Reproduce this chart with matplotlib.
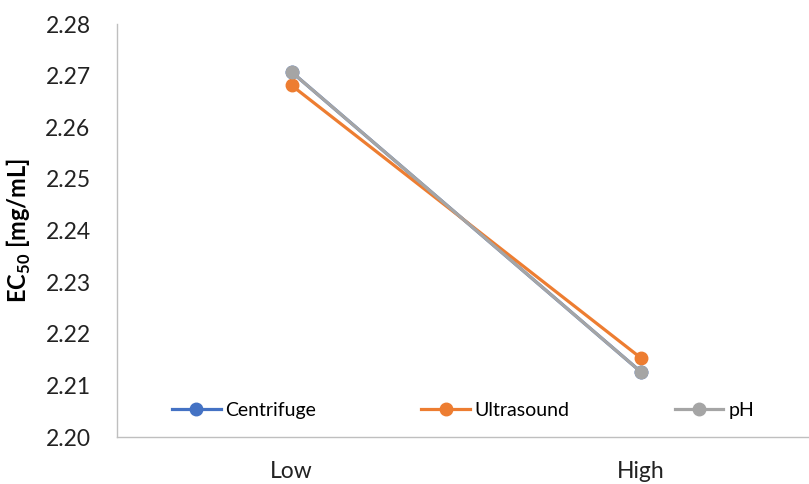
import matplotlib
matplotlib.use("Agg")
import matplotlib.pyplot as plt

categories = ["Low", "High"]
centrifuge = [2.2707, 2.2126]
ultrasound = [2.2681, 2.2153]
ph = [2.2707, 2.2126]
yticks = [2.20, 2.21, 2.22, 2.23, 2.24, 2.25, 2.26, 2.27, 2.28]

plt.rcParams['font.family'] = ['Lato', 'DejaVu Sans']
plt.rcParams['mathtext.fontset'] = 'custom'
plt.rcParams['mathtext.rm'] = 'Lato'
plt.rcParams['mathtext.bf'] = 'Lato:bold'

fig = plt.figure(figsize=(8.09, 4.84), dpi=100)
ax = fig.add_axes([0.1446, 0.0971, 0.8554, 0.8533])

x = list(range(len(categories)))
ax.plot(x, centrifuge, color="#4472C4", lw=2.3, marker="o", ms=9, label="Centrifuge")
ax.plot(x, ultrasound, color="#ED7D31", lw=2.3, marker="o", ms=9, label="Ultrasound")
ax.plot(x, ph, color="#A5A5A5", lw=2.3, marker="o", ms=9, label="pH")

ax.set_xlim(-0.5, 1.481)
ax.set_ylim(2.20, 2.28)
ax.set_yticks(yticks)
ax.set_yticklabels([f"{v:.2f}" for v in yticks], fontsize=16.5)
ax.set_xticks(x)
ax.set_xticklabels(categories, fontsize=16.5)
ax.tick_params(length=0, colors="#222222")
ax.tick_params(axis="y", pad=19)
ax.tick_params(axis="x", pad=17)

for s in ["top", "right"]:
    ax.spines[s].set_visible(False)
for s in ["left", "bottom"]:
    ax.spines[s].set_color("#BFBFBF")
    ax.spines[s].set_linewidth(1.0)

ax.set_ylabel(r"EC$_{\mathbf{50}}$ [mg/mL]", fontsize=17, fontweight="bold")
ax.yaxis.set_label_coords(-0.122, 0.5)

leg = ax.legend(loc="center left", bbox_to_anchor=(0.0795, 0.065), ncol=3, frameon=False,
                fontsize=14, columnspacing=5.4, handlelength=2.5, handletextpad=0.25,
                borderpad=0, borderaxespad=0)

fig.savefig("out.png", dpi=100)
